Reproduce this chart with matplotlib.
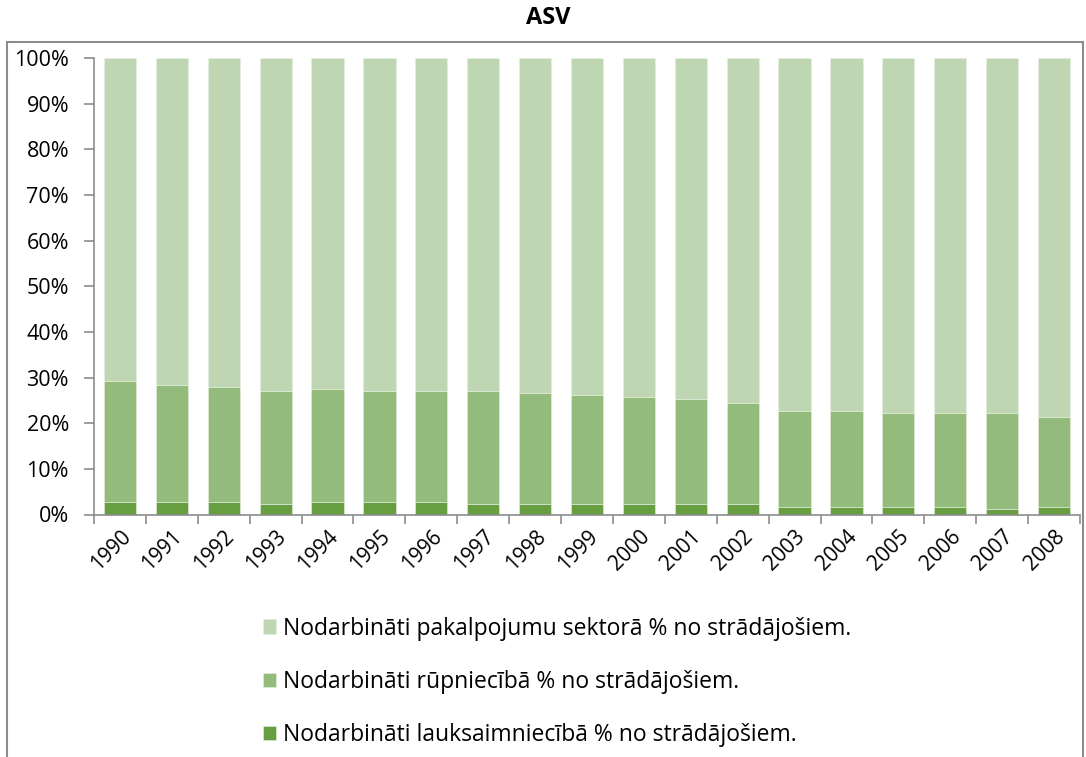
import matplotlib
matplotlib.use("Agg")
import matplotlib.pyplot as plt
from matplotlib.patches import Rectangle
from matplotlib.ticker import FuncFormatter, FixedLocator
import numpy as np

plt.rcParams['font.family'] = ['Open Sans', 'DejaVu Sans']

years = [str(y) for y in range(1990, 2009)]
agriculture = [2.8, 2.8, 2.8, 2.4, 2.8, 2.8, 2.8, 2.4, 2.4, 2.4, 2.4, 2.4, 2.4,
               1.6, 1.6, 1.6, 1.6, 1.1, 1.6]
industry_top = [29.3, 28.4, 28.0, 27.1, 27.6, 27.1, 27.1, 27.1, 26.7, 26.2, 25.8,
                25.3, 24.5, 22.7, 22.7, 22.2, 22.2, 22.2, 21.4]
industry = [t - a for t, a in zip(industry_top, agriculture)]
services = [100 - t for t in industry_top]

labels = [
    "Nodarbināti pakalpojumu sektorā % no strādājošiem.",
    "Nodarbināti rūpniecībā % no strādājošiem.",
    "Nodarbināti lauksaimniecībā % no strādājošiem.",
]
colors = ["#BFD6B3", "#92BB7C", "#679F40"]

W, H = 1086, 757
fig = plt.figure(figsize=(W / 100, H / 100), dpi=100)
ax = fig.add_axes([94 / W, 1 - 514.5 / H, (1080 - 94) / W, (514.5 - 58) / H])

x = np.arange(len(years))
bw = 0.62
b_agri = ax.bar(x, agriculture, bw, color=colors[2], edgecolor="#E6EFE0", linewidth=0.4, label=labels[2])
b_ind = ax.bar(x, industry, bw, bottom=agriculture, color=colors[1], edgecolor="#E6EFE0", linewidth=0.4, label=labels[1])
b_srv = ax.bar(x, services, bw, bottom=industry_top, color=colors[0], edgecolor="#E6EFE0", linewidth=0.4, label=labels[0])

ax.set_xlim(-0.5, len(years) - 0.5)
ax.set_ylim(0, 100)
ax.set_yticks(np.arange(0, 101, 10))
ax.yaxis.set_major_formatter(FuncFormatter(lambda v, p: f"{int(v)}%"))
ax.tick_params(axis="y", direction="out", length=7, width=1.2, color="#8C8C8C",
               labelsize=15.5, pad=11)

ax.set_xticks(x)
ax.set_xticklabels(years, rotation=45, ha="right", rotation_mode="anchor", fontsize=15)
ax.tick_params(axis="x", which="major", length=0, pad=8)
ax.xaxis.set_minor_locator(FixedLocator(np.arange(-0.5, len(years), 1.0)))
ax.tick_params(axis="x", which="minor", direction="out", length=6.5, width=1.2, color="#8C8C8C")

for side in ["top", "right"]:
    ax.spines[side].set_visible(False)
for side in ["left", "bottom"]:
    ax.spines[side].set_color("#8C8C8C")
    ax.spines[side].set_linewidth(1.2)

fig.text(548 / W, 1 - 18 / H, "ASV", ha="center", va="center", fontsize=17, fontweight="bold")

# chart area frame
fig.patches.append(Rectangle((7 / W, -0.05), (1083 - 7) / W, 1.05 - 42 / H,
                             transform=fig.transFigure, fill=False,
                             edgecolor="#8C8C8C", linewidth=1.5))

leg = fig.legend(handles=[b_srv, b_ind, b_agri], labels=labels,
                 loc="upper left", bbox_to_anchor=(242 / W, 1 - 596 / H),
                 frameon=False, fontsize=16.5, labelspacing=1.28,
                 handlelength=0.6, handleheight=0.6, handletextpad=0.3)

fig.savefig("out.png", dpi=100)
